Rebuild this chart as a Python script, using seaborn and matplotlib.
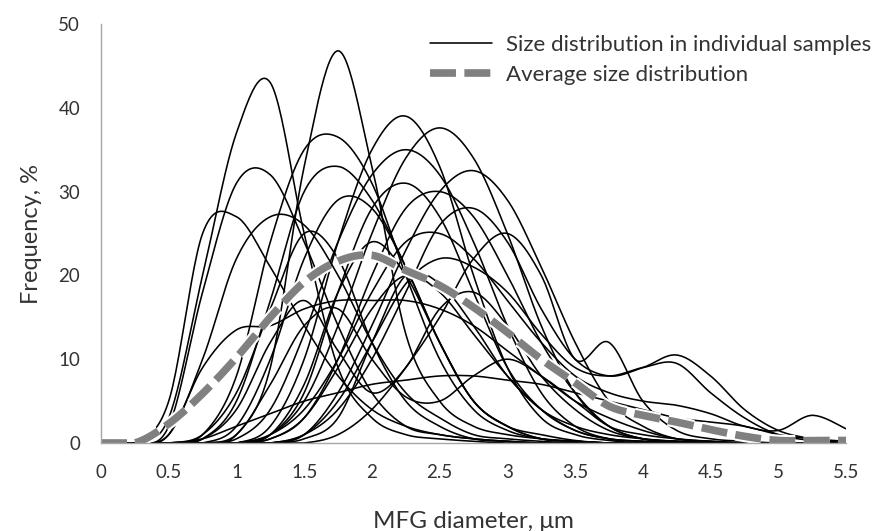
import numpy as np
import pandas as pd
import matplotlib
matplotlib.use("Agg")
import matplotlib.pyplot as plt
import matplotlib.patheffects as pe
from matplotlib.lines import Line2D
import seaborn as sns

# Particle diameter grid, um
diameter = [0, 0.25, 0.5, 0.75, 1.0, 1.25, 1.5, 1.75, 2.0, 2.25, 2.5, 2.75,
            3.0, 3.25, 3.5, 3.75, 4.0, 4.25, 4.5, 4.75, 5.0, 5.25, 5.5]

# Frequency (%) per diameter class for each sample
s01 = [0, 0, 3, 20, 37, 43, 25, 9, 3, 1, 0.5, 0.2, 0, 0, 0, 0, 0, 0, 0, 0, 0, 0, 0]
s02 = [0, 0, 0, 0, 1, 9, 33, 46.8, 33, 13, 5, 2, 1, 0.5, 0.2, 0, 0, 0, 0, 0, 0, 0, 0]
s03 = [0, 0, 0, 1, 8, 24, 35, 36.5, 31, 20, 10, 4, 1.5, 0.5, 0.2, 0, 0, 0, 0, 0, 0, 0, 0]
s04 = [0, 0, 2, 18, 31, 32, 24, 14, 6, 2, 1, 0.5, 0.2, 0, 0, 0, 0, 0, 0, 0, 0, 0, 0]
s05 = [0, 0, 0, 0.5, 5, 17, 30, 33, 29, 21, 12, 5, 2, 1, 0.3, 0, 0, 0, 0, 0, 0, 0, 0]
s06 = [0, 0, 5, 25, 27, 21, 14, 8, 4, 2, 1, 0.5, 0.2, 0, 0, 0, 0, 0, 0, 0, 0, 0, 0]
s07 = [0, 0, 0, 0, 0, 2, 10, 24, 35, 39, 33, 20, 9, 3, 1, 0.3, 0, 0, 0, 0, 0, 0, 0]
s08 = [0, 0, 0, 0, 0, 1, 5, 14, 25, 34, 37.6, 34, 25, 14, 6, 2, 0.5, 0.2, 0, 0, 0, 0, 0]
s09 = [0, 0, 0, 0, 0.5, 4, 13, 24, 32, 35, 32, 24, 14, 6, 2, 0.5, 0.2, 0, 0, 0, 0, 0, 0]
s10 = [0, 0, 0, 0, 0, 0, 1, 6, 14, 23, 30, 32.5, 29, 21, 12, 5, 2, 0.5, 0.2, 0, 0, 0, 0]
s11 = [0, 0, 0, 0, 0, 1, 6, 18, 28, 31, 27, 18, 9, 4, 1.5, 0.5, 0.2, 0, 0, 0, 0, 0, 0]
s12 = [0, 0, 1, 10, 22, 27, 26, 20, 12, 6, 3, 1, 0.5, 0.2, 0, 0, 0, 0, 0, 0, 0, 0, 0]
s13 = [0, 0, 0, 0, 2, 10, 22, 29, 28, 21, 12, 5, 2, 0.5, 0.2, 0, 0, 0, 0, 0, 0, 0, 0]
s14 = [0, 0, 0, 0, 0, 0, 1, 4, 10, 18, 26, 28, 24, 16, 10, 8, 9, 10.5, 8, 4, 1.5, 0.5, 0]
s15 = [0, 0, 0, 0, 0, 0, 0, 1, 4, 9, 15, 22, 25, 20, 10, 12, 5, 1.5, 0.5, 0.2, 0, 0, 0]
s16 = [0, 0, 0, 0, 0, 0.5, 3, 10, 20, 28, 30, 27, 20, 12, 6, 2, 0.5, 0.2, 0, 0, 0, 0, 0]
s17 = [0, 0, 0, 0, 0, 0, 0.5, 3, 12, 20, 19, 14, 8, 4, 1.5, 0.5, 0.2, 0, 0, 0, 0, 0, 0]
s18 = [0, 0, 0, 0.5, 4, 12, 17, 11, 6, 9, 16, 18, 14, 8, 4, 1.5, 0.5, 0.2, 0, 0, 0, 0, 0]
s19 = [0, 0, 1, 9, 13.5, 14, 16, 17, 17, 17, 16, 14, 11, 8, 5, 3, 1.5, 0.5, 0.2, 0, 0, 0, 0]
s20 = [0, 0, 0, 0, 1, 7, 14, 16, 10, 5.5, 5, 8, 10, 8, 5, 2, 1, 0.5, 0.2, 0, 0, 0, 0]
s21 = [0, 0, 0, 0.5, 2, 3.5, 5, 6, 7, 7.5, 8, 8, 7.5, 7, 6, 5, 4, 3, 2.5, 2, 1, 0.5, 0.2]
s22 = [0, 0, 0, 0, 0, 1, 4, 10, 18, 24, 25, 22, 17, 12, 8, 6, 5, 4.5, 3.5, 2, 1.5, 3.3, 1.7]
s23 = [0, 0, 0, 0, 0, 0.5, 3, 9, 16, 20, 18, 13, 8, 4, 2, 1, 0.5, 0.2, 0, 0, 0, 0, 0]
s24 = [0, 0, 0, 0, 0, 1, 7, 18, 24, 20, 12, 5, 2, 0.5, 0.2, 0, 0, 0, 0, 0, 0, 0, 0]
s25 = [0, 0, 0, 0, 0, 0, 1, 5, 12, 19, 22, 21, 18, 13, 9, 8, 9, 9.5, 6, 3, 1, 0.3, 0]
s26 = [0, 0, 0, 1, 6, 16, 25, 22, 12, 5, 2, 0.5, 0.2, 0, 0, 0, 0, 0, 0, 0, 0, 0, 0]

samples = [s01, s02, s03, s04, s05, s06, s07, s08, s09, s10, s11, s12, s13,
           s14, s15, s16, s17, s18, s19, s20, s21, s22, s23, s24, s25, s26]

# Average distribution over all samples
average = [0, 0, 2.3, 5.9, 10.2, 15, 19.2, 21.7, 22.4, 20.6, 18.8, 16.2,
           13.2, 10, 7.2, 4.4, 3.3, 2.5, 1.6, 0.8, 0.3, 0.3, 0.3]

legend_labels = ["Size distribution in individual samples",
                 "Average size distribution"]


def smooth(x, y, steps=24):
    """Smoothed (Catmull-Rom Bezier) rendering of a polyline through the points."""
    x = np.asarray(x, float)
    y = np.asarray(y, float)
    px = np.concatenate([[x[0]], x, [x[-1]]])
    py = np.concatenate([[y[0]], y, [y[-1]]])
    t = np.linspace(0, 1, steps, endpoint=False)[:, None]
    xs, ys = [], []
    for i in range(1, len(px) - 2):
        p0 = np.array([px[i], py[i]])
        p3 = np.array([px[i + 1], py[i + 1]])
        p1 = p0 + (np.array([px[i + 1], py[i + 1]]) - np.array([px[i - 1], py[i - 1]])) / 6
        p2 = p3 - (np.array([px[i + 2], py[i + 2]]) - np.array([px[i], py[i]])) / 6
        b = ((1 - t) ** 3) * p0 + 3 * ((1 - t) ** 2) * t * p1 + 3 * (1 - t) * t ** 2 * p2 + t ** 3 * p3
        xs.append(b[:, 0])
        ys.append(b[:, 1])
    xs.append([x[-1]])
    ys.append([y[-1]])
    return np.concatenate(xs), np.clip(np.concatenate(ys), 0, None)


sns.set_theme(style="white")
plt.rcParams["font.family"] = ["Lato", "DejaVu Sans"]

frames = []
for k, s in enumerate(samples):
    sx, sy = smooth(diameter, s)
    frames.append(pd.DataFrame({"d": sx, "f": sy, "sample": k}))
long = pd.concat(frames, ignore_index=True)

ax_x, ax_y = smooth(diameter, average)
avg_df = pd.DataFrame({"d": ax_x, "f": ax_y})

fig = plt.figure(figsize=(8.76, 5.31), dpi=100)
ax = fig.add_axes([101 / 876, 88 / 531, 745 / 876, 419 / 531])

sns.lineplot(data=long, x="d", y="f", units="sample", estimator=None, sort=False,
             color="black", linewidth=1.15, ax=ax, legend=False)
sns.lineplot(data=avg_df, x="d", y="f", estimator=None, sort=False,
             color="#808080", linewidth=5.5, ax=ax, legend=False)
avg_line = ax.lines[-1]
avg_line.set_dashes((3.4, 1.1))
avg_line.set_dash_capstyle("butt")
avg_line.set_path_effects([pe.Stroke(linewidth=8.5, foreground="white"), pe.Normal()])

ax.set_xlim(0, 5.5)
ax.set_ylim(0, 50)
xt = np.arange(0, 5.51, 0.5)
ax.set_xticks(xt)
ax.set_xticklabels([f"{v:g}" for v in xt])
ax.set_yticks(np.arange(0, 51, 10))

for side in ("top", "right"):
    ax.spines[side].set_visible(False)
for side in ("left", "bottom"):
    ax.spines[side].set_color("#a6a6a6")
    ax.spines[side].set_linewidth(1.0)

ax.tick_params(axis="x", direction="out", length=7, width=1, color="#a6a6a6",
               labelsize=13.5, labelcolor="#333333", pad=8)
ax.tick_params(axis="y", direction="inout", length=10, width=1, color="#a6a6a6",
               labelsize=13.5, labelcolor="#333333", pad=10)
ax.set_xlabel("MFG diameter, μm", fontsize=17.5, color="#333333", labelpad=22)
ax.set_ylabel("Frequency, %", fontsize=17, color="#333333", labelpad=12)

handles = [Line2D([], [], color="black", linewidth=1.15),
           Line2D([], [], color="#808080", linewidth=5.5, dashes=(3.4, 1.1),
                  dash_capstyle="butt")]
ax.legend(handles, legend_labels, loc="upper left", bbox_to_anchor=(430 / 876, 1 - 35 / 531),
          bbox_transform=fig.transFigure, borderpad=0, borderaxespad=0,
          frameon=False, fontsize=16, handlelength=2.8, handletextpad=0.6,
          labelspacing=0.45, labelcolor="#333333")

fig.savefig("out.png", dpi=100)
